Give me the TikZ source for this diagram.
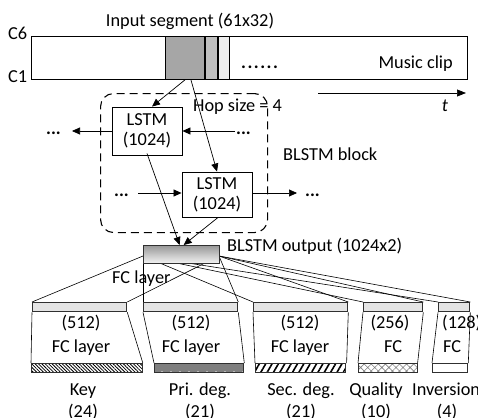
\documentclass[tikz,border=0pt]{standalone}
\usepackage{fontspec}
\setmainfont{Carlito}
\usetikzlibrary{arrows.meta,patterns.meta}
\definecolor{segdark}{HTML}{A6A6A6}
\definecolor{segmid}{HTML}{BFBFBF}
\definecolor{seglight}{HTML}{EEEEEE}
\definecolor{barfill}{HTML}{E4E4E4}
\definecolor{pridark}{HTML}{7F7F7F}
\definecolor{edge}{HTML}{303030}

\begin{document}
\begin{tikzpicture}[x=1pt,y=-1pt,
  font=\fontsize{18.3}{22}\selectfont,
  lbl/.style={inner sep=0pt, anchor=base},
  plain/.style={draw, line width=0.9pt, inner sep=0pt},
  lstmbox/.style={draw, line width=0.9pt, inner sep=0pt, minimum width=70pt,
    align=center, font=\fontsize{18.3}{20}\selectfont},
  topbar/.style={draw=edge, line width=1.3pt, fill=barfill, inner sep=0pt,
    minimum height=9pt, anchor=north west},
  botbar/.style={draw=edge, line width=1.3pt, inner sep=0pt,
    minimum height=9pt, anchor=north west},
  thin/.style={line width=0.6pt},
  arr/.style={line width=0.7pt, -{Triangle[length=8pt,width=7pt]}},
]
\useasboundingbox (0,0) rectangle (478,417);

% ---------- music clip with the sliding input segment ----------
\node[plain, line width=1pt, minimum width=436pt, minimum height=43pt, anchor=north west]
  (clip) at (31,36) {};
\node[plain, fill=segdark, minimum width=39pt, minimum height=43pt, anchor=north west]
  (seg) at (165,36) {};
\node[plain, fill=segmid, line width=1.4pt, minimum width=12pt, minimum height=43pt, anchor=north west]
  (seg2) at (205,36) {};
\node[plain, fill=seglight, minimum width=11pt, minimum height=43pt, anchor=north west]
  (seg3) at (218,36) {};

\node[lbl] (insegtxt) at (190,27) {Input segment (61x32)};
\node[lbl, anchor=base west] (c6) at (8,40) {C6};
\node[lbl, anchor=base west] (c1) at (8,83) {C1};
\node[lbl, anchor=base west] (cdots) at (241,69) {\bfseries .\kern1.5pt.\kern1.5pt.\kern1.5pt.\kern1.5pt.\kern1.5pt.};
\node[lbl, anchor=base east] (cliptxt) at (453,69) {Music clip};

% time axis
\coordinate (t0) at (318,93);
\coordinate (t1) at (466,93);
\draw[line width=0.7pt, -{Triangle[length=9pt,width=7pt]}] (t0) -- (t1);
\node[lbl] (tlab) at (445,111) {\itshape t};

% ---------- BLSTM block ----------
\node[draw, line width=1.1pt, dash pattern=on 8pt off 5pt, rounded corners=13pt,
  minimum width=167pt, minimum height=139pt, anchor=north west, inner sep=0pt]
  (blk) at (100,93) {};
\node[lbl, anchor=base west] (hop) at (193,111) {Hop size = 4};
\node[lbl, anchor=base west] (blktxt) at (283,160) {BLSTM block};

\node[lstmbox, minimum height=48pt, fill=white] (l1) at (147,131) {LSTM\\(1024)};
\node[lstmbox, minimum height=45pt, fill=white] (l2) at (217,194.5) {LSTM\\(1024)};

\draw[arr] (seg.south) -- ([xshift=5pt]l1.north);
\draw[arr] ([xshift=6pt]seg.south) -- (l2.north);

% recurrent links
\coordinate (l1out) at (72,131);
\coordinate (l1in) at (235,131);
\coordinate (l2in) at (138,193);
\coordinate (l2out) at (297,193);
\draw[arr] (l1.west) -- (l1out);
\draw[arr] (l1in) -- (l1.east);
\draw[arr] (l2in) -- (l2.west |- l2in);
\draw[arr] (l2.east |- l2out) -- (l2out);
\node[lbl, anchor=base west] (d1) at (46,134) {\bfseries ...};
\node[lbl, anchor=base west] (d2) at (236,134) {\bfseries ...};
\node[lbl, anchor=base west] (d3) at (114,196) {\bfseries ...};
\node[lbl, anchor=base west] (d4) at (305,196) {\bfseries ...};

% ---------- output heads ----------
\node[topbar, minimum width=94pt] (keyT) at (32,302) {};
\node[topbar, minimum width=94pt] (priT) at (143,302) {};
\node[topbar, minimum width=94pt] (secT) at (253,302) {};
\node[topbar, minimum width=59pt] (quaT) at (363,302) {};
\node[topbar, minimum width=31pt] (invT) at (438,302) {};

\node[botbar, minimum width=111pt,
  preaction={fill=white},
  pattern={Lines[angle=-45,distance=2.4pt,line width=0.8pt]}, pattern color=black]
  (keyB) at (31,363) {};
\node[botbar, minimum width=89pt,
  preaction={fill=pridark},
  pattern={Dots[radius=0.8pt,distance=9pt]}, pattern color=white!90!gray]
  (priB) at (154,363) {};
\node[botbar, minimum width=90pt,
  preaction={fill=white},
  pattern={Lines[angle=60,distance=5.5pt,line width=1.6pt]}, pattern color=black]
  (secB) at (255,363) {};
\node[botbar, minimum width=59pt,
  preaction={fill=white},
  pattern={Hatch[angle=45,distance=5pt,line width=0.6pt]}, pattern color=gray]
  (quaB) at (358,363) {};
\node[botbar, minimum width=35pt, fill=white] (invB) at (432,363) {};

% trapezoid sides
\foreach \h in {key,pri,sec,qua,inv}{
  \draw[thin] (\h T.south west) -- (\h B.north west);
  \draw[thin] (\h T.south east) -- (\h B.north east);
}

% fan-out from the BLSTM output
\coordinate (fanL) at (143,256);
\coordinate (fanR) at (219,256);
\foreach \h in {key,pri,sec,qua,inv}{
  \draw[thin] (fanL) -- (\h T.north west);
  \draw[thin] (fanR) -- (\h T.north east);
}

\node[draw=edge, line width=1.3pt, inner sep=0pt, minimum width=76pt, minimum height=18pt,
  anchor=north west, top color=gray!80, bottom color=gray!8]
  (bout) at (143,245) {};
\node[lbl, anchor=base west] (bouttxt) at (227,251) {BLSTM output (1024x2)};
\node[lbl, anchor=base west] (fctxt) at (112,283) {FC layer};

\draw[arr] ([yshift=2pt]l1.south) -- ([xshift=-2pt]bout.north);
\draw[arr] ([xshift=1pt]l2.south) -- ([xshift=2pt]bout.north);

% head texts
\node[lbl] (k1) at (81,328) {(512)};
\node[lbl] (k2) at (81,352) {FC layer};
\node[lbl] (p1) at (191,328) {(512)};
\node[lbl] (p2) at (191,352) {FC layer};
\node[lbl] (s1) at (300,328) {(512)};
\node[lbl] (s2) at (300,352) {FC layer};
\node[lbl] (q1) at (390,328) {(256)};
\node[lbl] (q2) at (393,352) {FC};
\node[lbl, anchor=base west] (i1) at (442,328) {(128)};
\node[lbl] (i2) at (452,352) {FC};

% class labels
\node[lbl] (kl) at (83,395) {Key};
\node[lbl] (kn) at (83,417) {(24)};
\node[lbl] (pl) at (200,395) {Pri. deg.};
\node[lbl] (pn) at (200,417) {(21)};
\node[lbl] (sl) at (301,395) {Sec. deg.};
\node[lbl] (sn) at (301,417) {(21)};
\node[lbl] (ql) at (376,395) {Quality};
\node[lbl] (qn) at (376,417) {(10)};
\node[lbl, anchor=base west] (il) at (412,395) {Inversion};
\node[lbl] (in) at (447,417) {(4)};
\end{tikzpicture}
\end{document}
